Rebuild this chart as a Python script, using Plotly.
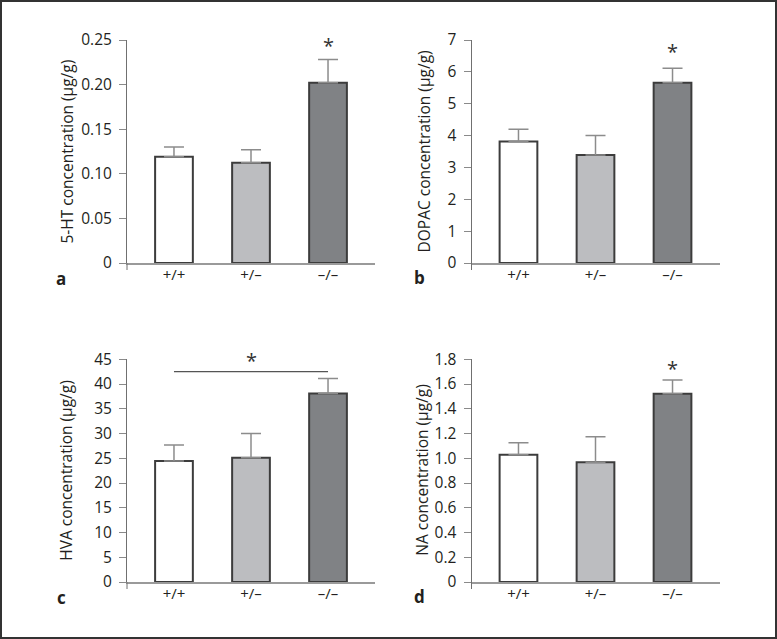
import plotly.graph_objects as go

W, H = 777, 639

genotypes = ["+/+", "+/\u2013", "\u2013/\u2013"]
bar_colors = ["#ffffff", "#bcbdc0", "#808285"]

ht5_mean = [0.119, 0.1125, 0.202]
ht5_err = [0.011, 0.0145, 0.026]
dopac_mean = [3.81, 3.39, 5.66]
dopac_err = [0.39, 0.61, 0.45]
hva_mean = [24.45, 25.1, 38.1]
hva_err = [3.25, 4.9, 3.0]
na_mean = [1.029, 0.967, 1.522]
na_err = [0.097, 0.207, 0.111]

panels = [
    dict(name="a", mean=ht5_mean, err=ht5_err, title="5-HT concentration (\u00b5g/g)",
         ymax=0.25, tickvals=[0, 0.05, 0.10, 0.15, 0.20, 0.25],
         ticktext=["0", "0.05", "0.10", "0.15", "0.20", "0.25"]),
    dict(name="b", mean=dopac_mean, err=dopac_err, title="DOPAC concentration (\u00b5g/g)",
         ymax=7, tickvals=list(range(8)), ticktext=[str(i) for i in range(8)]),
    dict(name="c", mean=hva_mean, err=hva_err, title="HVA concentration (\u00b5g/g)",
         ymax=45, tickvals=list(range(0, 50, 5)), ticktext=[str(i) for i in range(0, 50, 5)]),
    dict(name="d", mean=na_mean, err=na_err, title="NA concentration (\u00b5g/g)",
         ymax=1.8, tickvals=[0, 0.2, 0.4, 0.6, 0.8, 1.0, 1.2, 1.4, 1.6, 1.8],
         ticktext=["0", "0.2", "0.4", "0.6", "0.8", "1.0", "1.2", "1.4", "1.6", "1.8"]),
]

# significance asterisks (category index, y value) per panel
stars = {"a": (2, 0.2436), "b": (2, 6.63), "c": (1, 44.7), "d": (2, 1.724)}
hva_sig_line = (0, 2, 42.5)

# layout in pixels: (x_left, x_right, y_top, y_bottom), title x, label pos
geo = {
    "a": (127, 375, 40, 263, 66, (61, 278)),
    "b": (471.5, 719.5, 40, 263, 423, (419, 277)),
    "c": (127, 375, 359.3, 582, 66, (61, 597)),
    "d": (471.5, 719.5, 359.3, 582, 422, (419, 596)),
}

FONT = "Open Sans"
TXT = "#231f20"

fig = go.Figure()
annotations = []
shapes = []

for i, p in enumerate(panels):
    n = i + 1
    xa = "x" if n == 1 else f"x{n}"
    ya = "y" if n == 1 else f"y{n}"
    xl, xr, yt, yb, tx, lab = geo[p["name"]]
    fig.add_trace(go.Bar(
        x=genotypes, y=p["mean"], xaxis=xa, yaxis=ya, width=0.49,
        marker=dict(color=bar_colors, line=dict(color="#3c3c3c", width=2)),
        error_y=dict(type="data", array=p["err"], arrayminus=[0, 0, 0], symmetric=False,
                     color="#8c8c8c", thickness=1.5, width=10),
        showlegend=False, hoverinfo="skip",
    ))
    xkey = "xaxis" if n == 1 else f"xaxis{n}"
    ykey = "yaxis" if n == 1 else f"yaxis{n}"
    fig.layout[xkey] = dict(
        domain=[xl / W, xr / W], anchor=ya, type="category", range=[-0.61, 2.61],
        showline=True, linecolor="#9a9a9a", linewidth=1.5, ticks="", showgrid=False,
        automargin=False, fixedrange=True,
        tickfont=dict(family=FONT, size=15, color=TXT), ticklabelstandoff=-3,
    )
    fig.layout[ykey] = dict(
        domain=[1 - yb / H, 1 - yt / H], anchor=xa, range=[0, p["ymax"]],
        showline=True, linecolor="#707070", linewidth=1, ticks="outside", ticklen=7,
        tickcolor="#8a8a8a", tickwidth=1, showgrid=False, zeroline=False,
        automargin=False, fixedrange=True,
        tickvals=p["tickvals"], ticktext=p["ticktext"],
        tickfont=dict(family=FONT, size=15.5, color=TXT), ticklabelstandoff=4,
    )
    # y axis line extension below zero
    shapes.append(dict(type="line", xref=f"{xa} domain", yref=f"{ya} domain",
                       x0=0, x1=0, y0=0, y1=-7 / (yb - yt),
                       line=dict(color="#707070", width=1)))
    annotations.append(dict(text=p["title"], textangle=-90, xref="paper", yref="paper",
                            x=tx / W, y=1 - ((yt + yb) / 2) / H, showarrow=False,
                            xanchor="center", yanchor="middle",
                            font=dict(family=FONT, size=15.5, color=TXT)))
    annotations.append(dict(text="<b>" + p["name"] + "</b>", xref="paper", yref="paper",
                            x=lab[0] / W, y=1 - lab[1] / H, showarrow=False,
                            xanchor="center", yanchor="middle",
                            font=dict(family=FONT, size=17, color=TXT)))
    sx, sy = stars[p["name"]]
    annotations.append(dict(text="*", xref=xa, yref=f"{ya} domain", x=sx,
                            y=sy / p["ymax"], showarrow=False,
                            xanchor="center", yanchor="middle",
                            font=dict(family=FONT, size=20, color="#333333")))

shapes.append(dict(type="line", xref="x3", yref="y3", x0=hva_sig_line[0], x1=hva_sig_line[1],
                   y0=hva_sig_line[2], y1=hva_sig_line[2],
                   line=dict(color="#555555", width=1.3)))
shapes.append(dict(type="rect", xref="paper", yref="paper",
                   x0=1 / W, x1=776 / W, y0=1 / H, y1=1 - 1 / H,
                   line=dict(color="#333333", width=2)))

fig.update_layout(
    template="none",
    width=W, height=H, margin=dict(l=0, r=0, t=0, b=0, pad=0, autoexpand=False),
    paper_bgcolor="white", plot_bgcolor="white",
    font=dict(family=FONT, color=TXT),
    annotations=annotations, shapes=shapes, bargap=0.5,
)

fig.write_html("out.html", config={"displayModeBar": False},
               post_script="document.body.style.margin='0';document.body.style.overflow='hidden';")
